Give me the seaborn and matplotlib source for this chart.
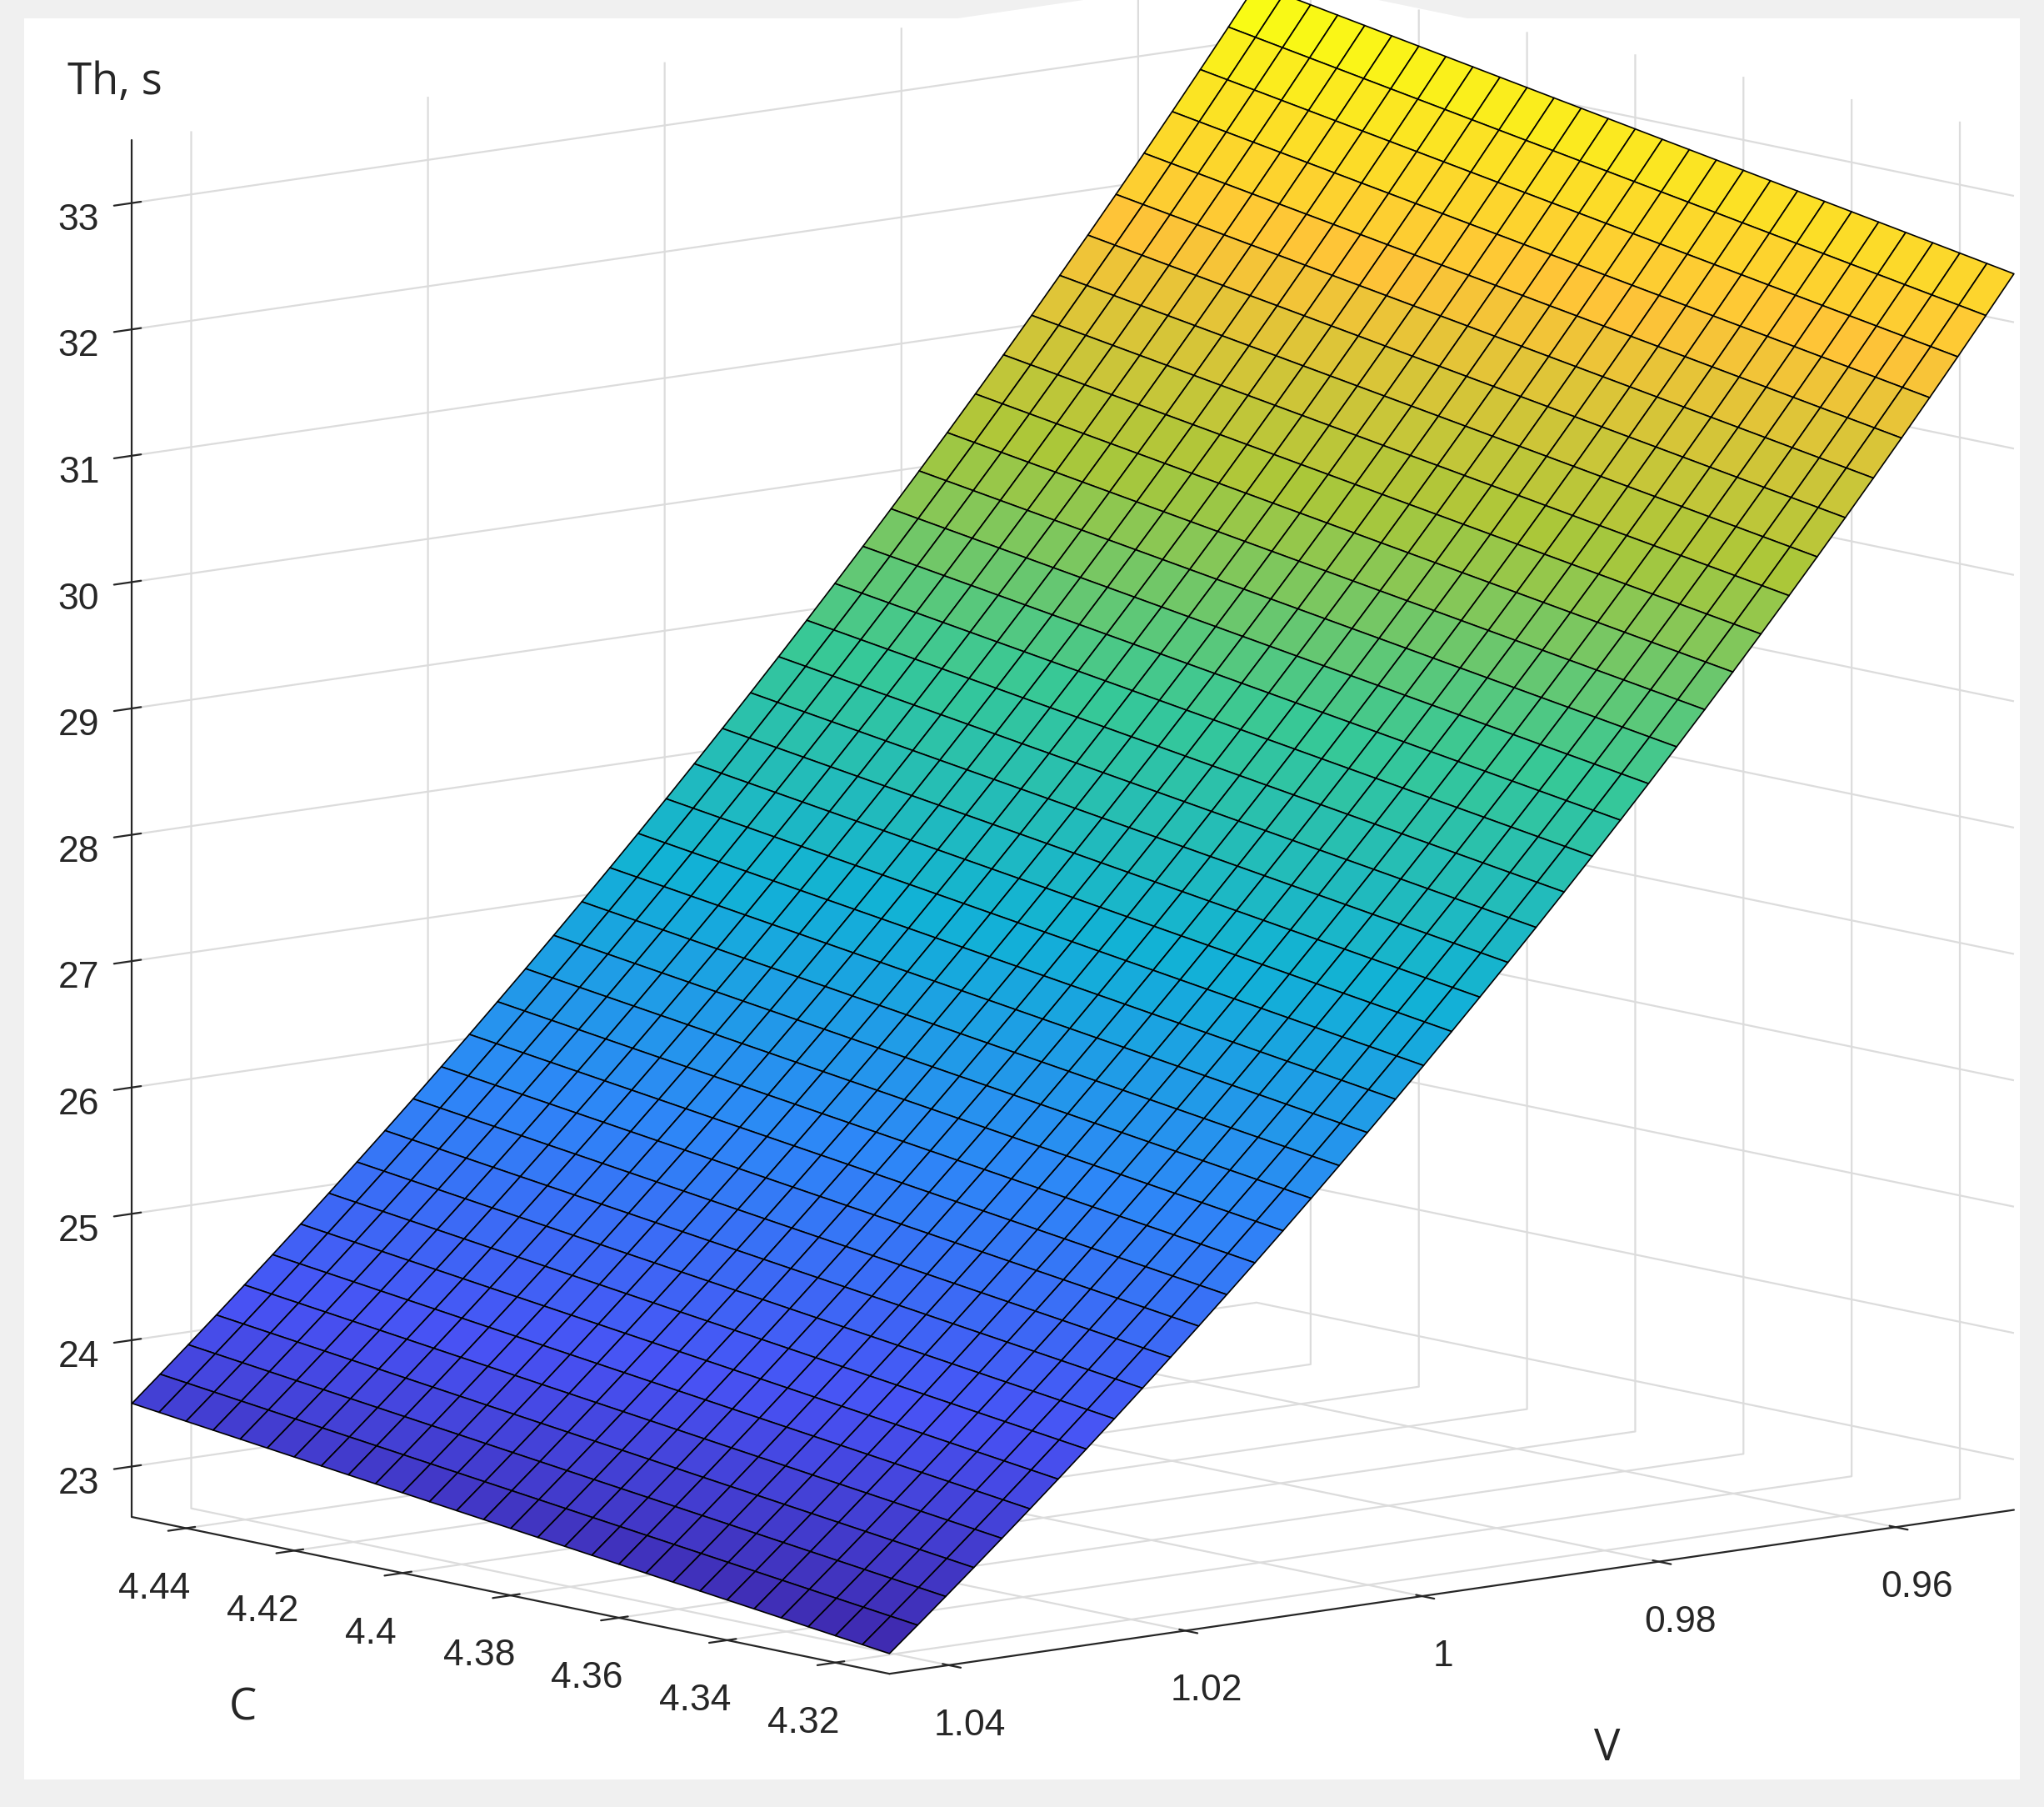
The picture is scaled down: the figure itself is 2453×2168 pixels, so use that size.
import numpy as np
import seaborn as sns
import matplotlib
matplotlib.use("Agg")
import matplotlib.pyplot as plt
from matplotlib.colors import LinearSegmentedColormap

sns.set_style("white")
plt.rcParams['font.family'] = ['Liberation Sans', 'DejaVu Sans']

# data: Th = th_ref * (C/c_ref) * (v_ref/V)**v_exp
c_min, c_max, n_c = 4.31, 4.45, 29
v_min, v_max, n_v = 0.95, 1.045, 41
th_ref, c_ref, v_ref, v_exp = 22.76, 4.31, 1.045, 3.7
c_ticks = [4.32, 4.34, 4.36, 4.38, 4.40, 4.42, 4.44]
c_tick_labels = ["4.32", "4.34", "4.36", "4.38", "4.4", "4.42", "4.44"]
v_ticks = [0.96, 0.98, 1.00, 1.02, 1.04]
v_tick_labels = ["0.96", "0.98", "1", "1.02", "1.04"]
z_ticks = list(range(23, 34))

parula_pts = [[0.2422,0.1504,0.6603],[0.2810,0.3228,0.9579],[0.1786,0.5289,0.9682],
              [0.0689,0.6948,0.8394],[0.2161,0.7843,0.5923],[0.6720,0.7793,0.2227],
              [0.9970,0.7659,0.2199],[0.9769,0.9839,0.0805]]
parula = LinearSegmentedColormap.from_list("parula", parula_pts)

C = np.linspace(c_min, c_max, n_c)
V = np.linspace(v_min, v_max, n_v)
CC, VV = np.meshgrid(C, V)
TH = th_ref * (CC / c_ref) * (v_ref / VV) ** v_exp

fig = plt.figure(figsize=(12.265, 10.84), dpi=200, facecolor='#f0f0f0')
bg = fig.add_axes([0.012, 0.015, 0.976, 0.975])
bg.set_facecolor('white'); bg.set_xticks([]); bg.set_yticks([])
for s in bg.spines.values():
    s.set_visible(False)
ax = fig.add_axes([0.013, 0.03, 1.0, 1.0], projection='3d')
ax.set_proj_type('ortho')
ax.patch.set_alpha(0)
norm = plt.Normalize(TH.min(), TH.max())
surf = ax.plot_surface(CC, VV, TH, facecolors=parula(norm(TH)), edgecolor='black',
                       linewidth=0.6, shade=False, rstride=1, cstride=1, antialiased=True)
surf.set_clip_on(False)
ax.set_xlim(c_min, c_max, view_margin=0)
ax.set_ylim(v_min, v_max, view_margin=0)
ax.set_zlim(22.6, 33.5, view_margin=0)
ax.set_xticks(c_ticks); ax.set_xticklabels(c_tick_labels)
ax.set_yticks(v_ticks); ax.set_yticklabels(v_tick_labels)
ax.set_zticks(z_ticks)
ax.tick_params(labelsize=16, colors='#262626')
for a in (ax.xaxis, ax.yaxis, ax.zaxis):
    a.set_pane_color((1, 1, 1, 1))
    a._axinfo['grid']['color'] = '#dcdcdc'
    a._axinfo['grid']['linewidth'] = 0.8
ax.zaxis.set_ticks_position('upper')
ax.view_init(elev=10, azim=140)
ax.set_box_aspect((1.18, 1.47, 1.4), zoom=1.26)
fig.text(0.033, 0.948, "Th, s", fontsize=19, family=['Open Sans', 'DejaVu Sans'])
fig.text(0.112, 0.048, "C", fontsize=19, family=['Open Sans', 'DejaVu Sans'])
fig.text(0.78, 0.026, "V", fontsize=19, family=['Open Sans', 'DejaVu Sans'])
fig.savefig("out.png", dpi=200, facecolor=fig.get_facecolor())
